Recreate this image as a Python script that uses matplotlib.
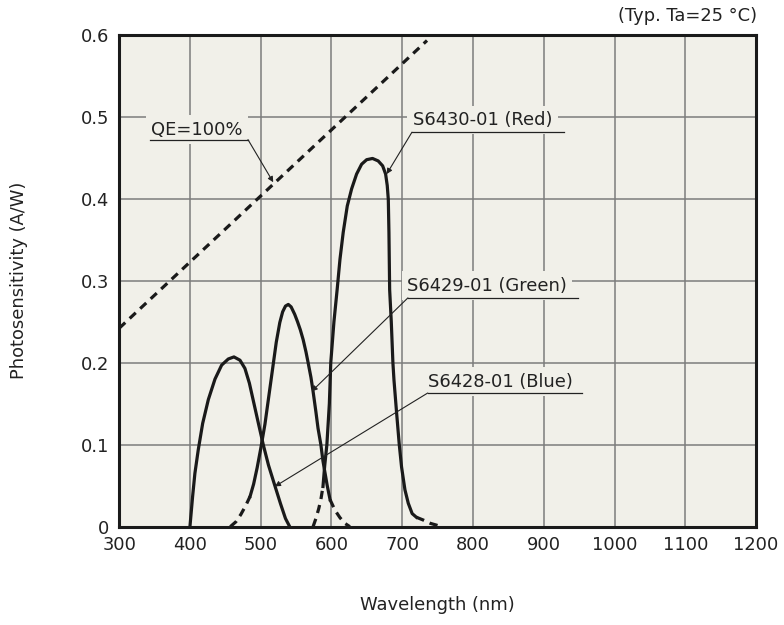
import matplotlib
matplotlib.use('Agg')
import matplotlib.pyplot as plt

# QE=100% reference line end points (nm)
qe_wl = [300, 735]

# S6428-01 (Blue) - all solid
blue_wl = [400, 403.8, 407, 411.8, 418, 426, 435.4, 444.8, 454.2, 462.2, 470.7, 477.7, 484, 490.5,
           497, 503.6, 511, 520, 528, 535, 541]
blue_s = [0, 0.037, 0.065, 0.094, 0.126, 0.155, 0.180, 0.197, 0.2045, 0.207, 0.203, 0.193, 0.175,
          0.15, 0.125, 0.10, 0.075, 0.05, 0.028, 0.01, 0]

# S6429-01 (Green)
green_tail_l_wl = [457, 465, 472, 479, 485]
green_tail_l_s = [0, 0.006, 0.015, 0.026, 0.037]
green_wl = [485, 490, 495, 500, 506, 510, 514, 518, 522, 527, 531, 535, 539, 543, 548, 552, 556,
            560, 564, 567, 571, 574, 578, 581, 585, 588, 591, 594, 598]
green_s = [0.037, 0.052, 0.072, 0.095, 0.125, 0.15, 0.175, 0.20, 0.225, 0.249, 0.262, 0.269,
           0.271, 0.268, 0.259, 0.25, 0.24, 0.228, 0.213, 0.20, 0.182, 0.165, 0.14, 0.12, 0.10,
           0.08, 0.065, 0.05, 0.033]
green_tail_r_wl = [598, 605, 612, 619, 626]
green_tail_r_s = [0.033, 0.02, 0.011, 0.004, 0]

# S6430-01 (Red)
red_tail_l_wl = [574, 578, 582, 585, 588]
red_tail_l_s = [0, 0.01, 0.022, 0.033, 0.049]
red_wl = [588, 590.5, 593.5, 597, 599, 603.5, 608, 612, 616.6, 622.3, 628.5, 635.5, 642.6, 649.7,
          658, 666, 672.3, 676.5, 678.8, 680.3, 681.2, 682.2, 684.5, 686.8, 688.3, 692, 695.8,
          699, 703.8, 708.5, 714, 720]
red_s = [0.049, 0.075, 0.10, 0.15, 0.20, 0.25, 0.289, 0.326, 0.359, 0.391, 0.412, 0.430, 0.442,
         0.4475, 0.449, 0.446, 0.440, 0.430, 0.416, 0.399, 0.359, 0.289, 0.25, 0.20, 0.179, 0.139,
         0.10, 0.073, 0.045, 0.0286, 0.016, 0.0115]
red_tail_r_wl = [720, 730, 740, 748, 755]
red_tail_r_s = [0.0115, 0.008, 0.004, 0.002, 0]

x_ticks = [300, 400, 500, 600, 700, 800, 900, 1000, 1100, 1200]
y_ticks = [0, 0.1, 0.2, 0.3, 0.4, 0.5, 0.6]
y_tick_labels = ['0', '0.1', '0.2', '0.3', '0.4', '0.5', '0.6']

bg = '#f1f0e9'
fs = 12.9
tc = '#222222'

fig = plt.figure(figsize=(7.84, 6.25), dpi=100)
ax = fig.add_axes([0.152, 0.1573, 0.8124, 0.7873])
ax.set_facecolor(bg)

ax.set_xlim(300, 1200)
ax.set_ylim(0, 0.6)
ax.set_xticks(x_ticks)
ax.set_yticks(y_ticks)
ax.set_yticklabels(y_tick_labels)
ax.tick_params(length=0, pad=7, labelsize=fs, colors=tc)
ax.grid(True, color='#7c7c7c', linewidth=1.1)
ax.set_axisbelow(True)
for sp in ax.spines.values():
    sp.set_linewidth(2.2)
    sp.set_color('#1a1a1a')
    sp.set_zorder(10)

lw = 2.3
col = '#1a1a1a'
dash = (0, (2.6, 1.9))
qe_s = [w / 1239.84 for w in qe_wl]
ax.plot(qe_wl, qe_s, color=col, lw=lw, linestyle=dash, zorder=5)

ax.plot(blue_wl, blue_s, color=col, lw=lw, zorder=5)
ax.plot(green_wl, green_s, color=col, lw=lw, zorder=5)
ax.plot(green_tail_l_wl, green_tail_l_s, color=col, lw=lw, linestyle=dash, zorder=5)
ax.plot(green_tail_r_wl, green_tail_r_s, color=col, lw=lw, linestyle=dash, zorder=5)
ax.plot(red_wl, red_s, color=col, lw=lw, zorder=5)
ax.plot(red_tail_l_wl, red_tail_l_s, color=col, lw=lw, linestyle=dash, zorder=5)
ax.plot(red_tail_r_wl, red_tail_r_s, color=col, lw=lw, linestyle=dash, zorder=5)

# labels with underline and leader arrow
labels = [
    ('QE=100%', 345.5, 0.484, 343.5, 482, 0.472, (517.7, 0.42), 'right'),
    ('S6430-01 (Red)', 715, 0.496, 713.7, 928.5, 0.481, (678, 0.43), 'left'),
    ('S6429-01 (Green)', 707, 0.294, 708, 948, 0.279, (572, 0.165), 'left'),
    ('S6428-01 (Blue)', 736.5, 0.177, 736, 954, 0.163, (520, 0.049), 'left'),
]
for txt, tx, ty, ux0, ux1, uy, tip, side in labels:
    ax.text(tx, ty, txt, fontsize=fs, color=tc, va='center', ha='left', zorder=6,
            bbox=dict(boxstyle='square,pad=0.3', facecolor=bg, edgecolor='none'))
    ax.plot([ux0, ux1], [uy, uy], color=tc, lw=0.9, zorder=7)
    start = (ux1, uy) if side == 'right' else (ux0, uy)
    ax.annotate('', xy=tip, xytext=start, zorder=7,
                arrowprops=dict(arrowstyle='-|>', color=tc, lw=0.8,
                                mutation_scale=8, shrinkA=0, shrinkB=0))

ax.set_xlabel('Wavelength (nm)', fontsize=fs, color=tc, labelpad=30)
ax.set_ylabel('Photosensitivity (A/W)', fontsize=fs, color=tc, labelpad=38)
fig.text(0.966, 0.975, '(Typ. Ta=25 °C)', fontsize=fs, color=tc, ha='right', va='center')

fig.savefig('out.png', dpi=100, facecolor='white')
